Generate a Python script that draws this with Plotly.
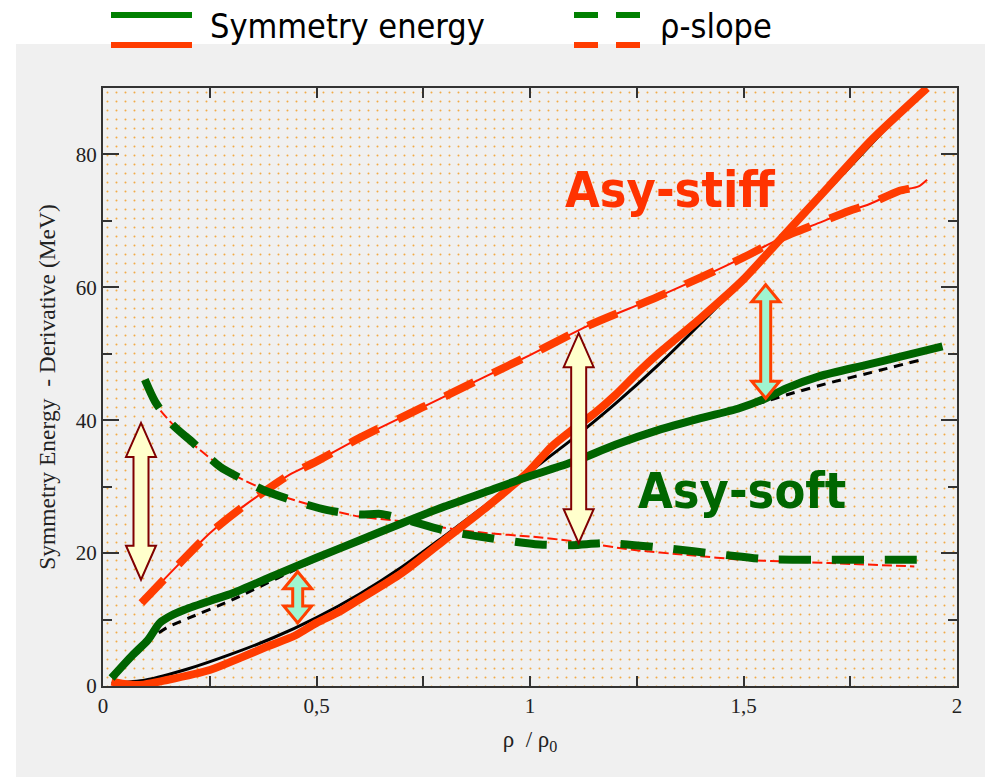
import numpy as np
import plotly.graph_objects as go

# ---- data: densities in units of rho/rho0, energies in MeV ----
# Asy-stiff symmetry energy
stiff_esym_rho = [0.02, 0.05, 0.087, 0.15, 0.25, 0.32, 0.383, 0.45, 0.5, 0.554, 0.6, 0.7, 0.8, 0.9,
                  0.96, 1.0, 1.05, 1.1, 1.15, 1.2, 1.256, 1.3, 1.4, 1.5, 1.59, 1.7, 1.8, 1.93]
stiff_esym_val = [0.65, 0.3, 0.15, 0.9, 2.4, 4.2, 5.9, 7.6, 9.5, 11.2, 13.0, 17.0, 22.0, 27.0,
                  30.2, 32.5, 36.0, 38.6, 41.0, 43.8, 47.4, 50.0, 55.4, 61.2, 67.5, 75.2, 82.2, 90.0]
# reference parametrisation (thin black line)
ref_stiff_rho = [0.02, 0.1, 0.2, 0.3, 0.4, 0.5, 0.6, 0.7, 0.8, 0.9, 1.0, 1.1, 1.2, 1.3, 1.4,
                 1.5, 1.6, 1.7, 1.8, 1.92]
ref_stiff_val = [0.4, 0.9, 2.6, 4.8, 7.3, 10.3, 13.8, 17.9, 22.6, 27.4, 32.3, 37.2, 42.5, 48.3, 54.6,
                 61.2, 68.0, 74.8, 81.6, 89.8]
# Asy-soft symmetry energy
soft_esym_rho = [0.02, 0.07, 0.105, 0.133, 0.16, 0.188, 0.25, 0.305, 0.4, 0.5, 0.6, 0.7, 0.8, 0.9,
                 1.0, 1.1, 1.2, 1.3, 1.4, 1.49, 1.552, 1.6, 1.677, 1.786, 1.87, 1.966]
soft_esym_val = [1.2, 4.7, 6.9, 9.5, 10.6, 11.4, 12.8, 14.0, 16.6, 19.3, 21.9, 24.5, 27.0, 29.3,
                 31.6, 33.7, 36.3, 38.5, 40.3, 41.8, 43.3, 44.8, 46.6, 48.3, 49.6, 51.1]
ref_soft_rho = [0.1, 0.15, 0.2, 0.3, 0.5, 0.8, 1.0, 1.3, 1.55, 1.6, 1.7, 1.8, 1.91]
ref_soft_val = [6.6, 8.8, 10.2, 12.9, 19.0, 26.8, 31.3, 38.3, 42.8, 43.8, 45.6, 47.2, 49.0]
# density slopes
stiff_slope_rho = [0.09, 0.18, 0.25, 0.328, 0.383, 0.437, 0.5, 0.6, 0.75, 0.9, 1.0, 1.139, 1.3,
                   1.5, 1.584, 1.677, 1.747, 1.794, 1.864, 1.91, 1.93]
stiff_slope_val = [12.5, 18.5, 23.0, 27.0, 29.5, 31.8, 33.8, 37.3, 42.0, 46.7, 49.8, 54.3, 58.6,
                   64.5, 67.3, 69.7, 71.5, 72.5, 74.5, 75.2, 76.2]
soft_slope_rho = [0.098, 0.122, 0.16, 0.211, 0.274, 0.33, 0.375, 0.441, 0.523, 0.6, 0.65, 0.7, 0.8,
                  0.9, 1.022, 1.1, 1.178, 1.31, 1.459, 1.55, 1.677, 1.8, 1.94]
soft_slope_val = [46.1, 42.8, 39.5, 36.6, 33.0, 31.0, 29.5, 28.0, 26.5, 25.8, 25.9, 25.2, 23.4,
                  22.3, 21.3, 21.2, 21.5, 20.8, 19.7, 19.1, 19.0, 19.0, 19.0]
ref_soft_slope_rho = [0.1, 0.133, 0.2, 0.3, 0.4, 0.5, 0.6, 0.7, 0.8, 0.9, 1.0, 1.1, 1.24, 1.37,
                      1.5, 1.7, 1.9]
ref_soft_slope_val = [45.0, 41.6, 37.0, 32.0, 29.0, 27.0, 25.5, 24.8, 23.8, 23.0, 22.5, 21.8, 20.5,
                      19.7, 19.0, 18.5, 18.0]

# double arrows: (rho, lower tip, upper tip, style)
arrow_rho = [0.089, 0.456, 1.114, 1.552]
arrow_low = [16.0, 9.5, 21.5, 43.3]
arrow_high = [39.6, 17.2, 53.1, 60.4]
arrow_kind = ["yellow", "green", "yellow", "green"]

x_ticks = [0, 0.5, 1, 1.5, 2]
x_ticktext = ["0", "0,5", "1", "1,5", "2"]
y_ticks = [0, 20, 40, 60, 80]
x_range = [0, 2]
y_range = [0, 90]

# ---- styling ----
W, H = 985, 777
L, R, T, B = 103, 28, 88, 91
PW, PH = W - L - R, H - T - B
RED = "#ff3c00"
GREEN = "#006400"
NARROW = "DejaVu Sans Condensed, Liberation Sans Narrow, sans-serif"
SERIF = "Liberation Serif, Times New Roman, serif"
SMOOTH = 0.7


def px_x(px):
    return (px - L) / PW


def px_y(py):
    return (H - B - py) / PH


fig = go.Figure()

# dotted plot background
fig.add_trace(go.Scatter(
    x=[x_range[0], x_range[1], x_range[1], x_range[0], x_range[0]],
    y=[y_range[0], y_range[0], y_range[1], y_range[1], y_range[0]],
    mode="none", fill="toself", fillcolor="#f0f0f0",
    fillpattern=dict(shape=".", size=9, solidity=0.04, fgcolor="#f39a1c",
                     bgcolor="#f0f0f0", fgopacity=0.8),
    hoverinfo="skip", showlegend=False))


def curve(x, y, color, width, dash="solid"):
    return go.Scatter(x=x, y=y, mode="lines", hoverinfo="skip", showlegend=False,
                      line=dict(color=color, width=width, dash=dash, shape="spline",
                                smoothing=SMOOTH))


# reference (black) curves underneath
fig.add_trace(curve(ref_stiff_rho, ref_stiff_val, "black", 3))
fig.add_trace(curve(ref_soft_rho, ref_soft_val, "black", 3, "9px,7px"))
# thin red companions of the slopes
fig.add_trace(curve(stiff_slope_rho, stiff_slope_val, "#ff1a00", 2))
fig.add_trace(curve(ref_soft_slope_rho, ref_soft_slope_val, "#ff1a00", 2, "10px,4px"))
# main curves
fig.add_trace(curve(stiff_esym_rho, stiff_esym_val, RED, 8))
fig.add_trace(curve(soft_esym_rho, soft_esym_val, GREEN, 8))
fig.add_trace(curve(stiff_slope_rho, stiff_slope_val, RED, 8, "32px,21px"))
fig.add_trace(curve(soft_slope_rho, soft_slope_val, GREEN, 8, "32px,21px"))

# block double arrows
kx = (x_range[1] - x_range[0]) / PW
ky = (y_range[1] - y_range[0]) / PH
arrow_style = {
    "yellow": dict(fill="#ffffcc", line="#800000", lw=2, hw=15, sw=7.5, hl=34),
    "green": dict(fill="#a0f5d0", line="#ff4000", lw=3, hw=14, sw=5, hl=17),
}
shapes = []
for xr, lo, hi, kind in zip(arrow_rho, arrow_low, arrow_high, arrow_kind):
    st = arrow_style[kind]
    hw, sw = st["hw"] * kx, st["sw"] * kx
    hl = st["hl"] * ky
    pts = [(xr, hi), (xr + hw, hi - hl), (xr + sw, hi - hl), (xr + sw, lo + hl),
           (xr + hw, lo + hl), (xr, lo), (xr - hw, lo + hl), (xr - sw, lo + hl),
           (xr - sw, hi - hl), (xr - hw, hi - hl)]
    path = "M " + " L ".join(f"{a:.5f},{b:.4f}" for a, b in pts) + " Z"
    shapes.append(dict(type="path", path=path, xref="x", yref="y", layer="above",
                       fillcolor=st["fill"], line=dict(color=st["line"], width=st["lw"])))

# grey panel behind the plot
shapes.insert(0, dict(type="rect", xref="paper", yref="paper", layer="below",
                      x0=px_x(16), x1=px_x(W), y0=px_y(H), y1=px_y(44),
                      fillcolor="#f0f0f0", line=dict(width=0)))

# legend swatches
for (x0, x1, py, col, dash) in [(111, 192, 15, "#008000", "solid"), (111, 192, 45, RED, "solid"),
                                (574, 641, 15, "#008000", "24px,18px"), (574, 641, 45, RED, "24px,18px")]:
    shapes.append(dict(type="line", xref="paper", yref="paper", layer="above",
                       x0=px_x(x0), x1=px_x(x1), y0=px_y(py), y1=px_y(py),
                       line=dict(color=col, width=6, dash=dash)))

annotations = [
    dict(text="Symmetry energy", x=px_x(208), y=px_y(26), xref="paper", yref="paper",
         xanchor="left", yanchor="middle", showarrow=False,
         font=dict(family=NARROW, size=34, color="black")),
    dict(text="ρ-slope", x=px_x(658), y=px_y(26), xref="paper", yref="paper",
         xanchor="left", yanchor="middle", showarrow=False,
         font=dict(family=NARROW, size=34, color="black")),
    dict(text="<b>Asy-stiff</b>", x=1.329, y=74.6, xref="x", yref="y",
         xanchor="center", yanchor="middle", showarrow=False,
         font=dict(family=NARROW, size=50, color="#ff3300")),
    dict(text="<b>Asy-soft</b>", x=1.497, y=29.35, xref="x", yref="y",
         xanchor="center", yanchor="middle", showarrow=False,
         font=dict(family=NARROW, size=50, color="#006600")),
]

axis_common = dict(showline=True, linecolor="#333333", linewidth=2, mirror="ticks",
                   ticks="inside", tickcolor="#333333", tickwidth=2, showgrid=False,
                   zeroline=False, tickfont=dict(family=SERIF, size=21, color="#222222"))

fig.update_layout(
    width=W, height=H, margin=dict(l=L, r=R, t=T, b=B, pad=0),
    paper_bgcolor="white", plot_bgcolor="#f0f0f0",
    shapes=shapes, annotations=annotations, showlegend=False,
    xaxis=dict(range=x_range, tickmode="array", tickvals=x_ticks, ticktext=x_ticktext,
               ticklen=10, minor=dict(tickmode="linear", tick0=0, dtick=0.25, ticks="inside",
                                       ticklen=10, tickcolor="#333333", tickwidth=2),
               title=dict(text="ρ  / ρ<sub>0</sub>", standoff=14,
                          font=dict(family=SERIF, size=23, color="#222222")),
               **axis_common),
    yaxis=dict(range=y_range, tickmode="array", tickvals=y_ticks, ticklen=16,
               minor=dict(tickmode="linear", tick0=0, dtick=10, ticks="inside", ticklen=9,
                          tickcolor="#333333", tickwidth=2),
               title=dict(text="Symmetry Energy  - Derivative (MeV)", standoff=14,
                          font=dict(family=SERIF, size=23.5, color="#222222")),
               **axis_common),
)

fig.write_html("out.html")
